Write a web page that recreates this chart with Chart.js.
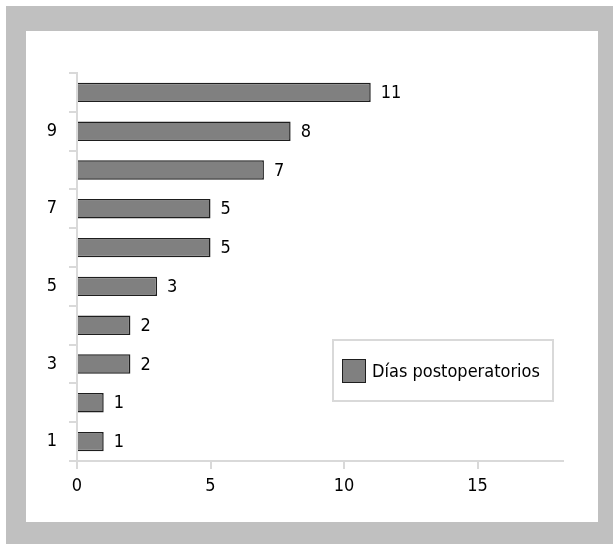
<!DOCTYPE html>
<html>
<head>
<meta charset="utf-8">
<script src="https://cdn.jsdelivr.net/npm/chart.js@4"></script>
<style>
  body { margin:0; background:#fff; }
  #frame { position:absolute; left:6px; top:6px; width:607px; height:538px; background:#c0c0c0; }
  #inner { position:absolute; left:26px; top:31px; width:572px; height:491px; background:#fff; }
</style>
</head>
<body>
<div id="frame"></div>
<div id="inner"><canvas id="chart" width="572" height="491"></canvas></div>
<script>
// ---------- dados ----------
const categorias = ['1','2','3','4','5','6','7','8','9','10'];   // de baixo para cima
const diasPostoperatorios = [1, 1, 2, 2, 3, 5, 5, 7, 8, 11];
const xTicks = [0, 5, 10, 15];
const xMax = 18.2;
const serieLabel = 'Días postoperatorios';

const FONT = '"DejaVu Sans Condensed", "DejaVu Sans", sans-serif';
const axisColor = '#d9d9d9';
const barFill = '#808080';
const barBorder = '#1e1e1e';

// rótulos de valor à direita das barras
const valueLabels = {
  id: 'valueLabels',
  afterDatasetsDraw(chart){
    const ctx = chart.ctx;
    const meta = chart.getDatasetMeta(0);
    ctx.save();
    ctx.font = '18px ' + FONT;
    ctx.fillStyle = '#000';
    ctx.textAlign = 'left';
    ctx.textBaseline = 'middle';
    meta.data.forEach((bar, i) => {
      ctx.fillText(String(diasPostoperatorios[i]), bar.x + 10, bar.y + 1);
    });
    ctx.restore();
  }
};

// legenda dentro da área do gráfico
const boxLegend = {
  id: 'boxLegend',
  afterDraw(chart){
    const ctx = chart.ctx;
    const x = 307, y = 309, w = 220, h = 61;
    ctx.save();
    ctx.strokeStyle = axisColor;
    ctx.lineWidth = 2;
    ctx.strokeRect(x, y, w, h);
    ctx.fillStyle = barFill;
    ctx.fillRect(x + 9, y + 19, 24, 24);
    ctx.strokeStyle = barBorder;
    ctx.lineWidth = 1;
    ctx.strokeRect(x + 9.5, y + 19.5, 23, 23);
    ctx.font = '18px ' + FONT;
    ctx.fillStyle = '#000';
    ctx.textBaseline = 'middle';
    ctx.fillText(serieLabel, x + 39, y + 32);
    ctx.restore();
  }
};

new Chart(document.getElementById('chart'), {
  type: 'bar',
  data: {
    labels: categorias,
    datasets: [{
      label: serieLabel,
      data: diasPostoperatorios,
      backgroundColor: barFill,
      borderColor: barBorder,
      borderWidth: 1.5,
      borderSkipped: 'start',
      barPercentage: 0.5,
      categoryPercentage: 1
    }]
  },
  options: {
    indexAxis: 'y',
    responsive: false,
    animation: false,
    events: [],
    layout: { padding: { left: 0, right: 35, top: 42, bottom: 0 } },
    plugins: { legend: { display: false }, tooltip: { enabled: false } },
    scales: {
      x: {
        min: 0, max: xMax,
        afterBuildTicks: s => { s.ticks = xTicks.map(v => ({ value: v })); },
        afterFit: s => { s.height = 61; },
        grid: { drawOnChartArea: false, color: axisColor, lineWidth: 2, tickLength: 8 },
        border: { color: axisColor, width: 2 },
        ticks: { font: { family: FONT, size: 18 }, color: '#000', padding: 7, maxRotation: 0 }
      },
      y: {
        reverse: true,
        afterFit: s => { s.width = 51; },
        grid: { drawOnChartArea: false, color: axisColor, lineWidth: 2, tickLength: 8, offset: true },
        border: { color: axisColor, width: 2 },
        ticks: {
          font: { family: FONT, size: 18 }, color: '#000', padding: 12, autoSkip: false,
          callback: (v, i) => (i % 2 === 0 ? categorias[i] : '')
        }
      }
    }
  },
  plugins: [valueLabels, boxLegend]
});
</script>
</body>
</html>
